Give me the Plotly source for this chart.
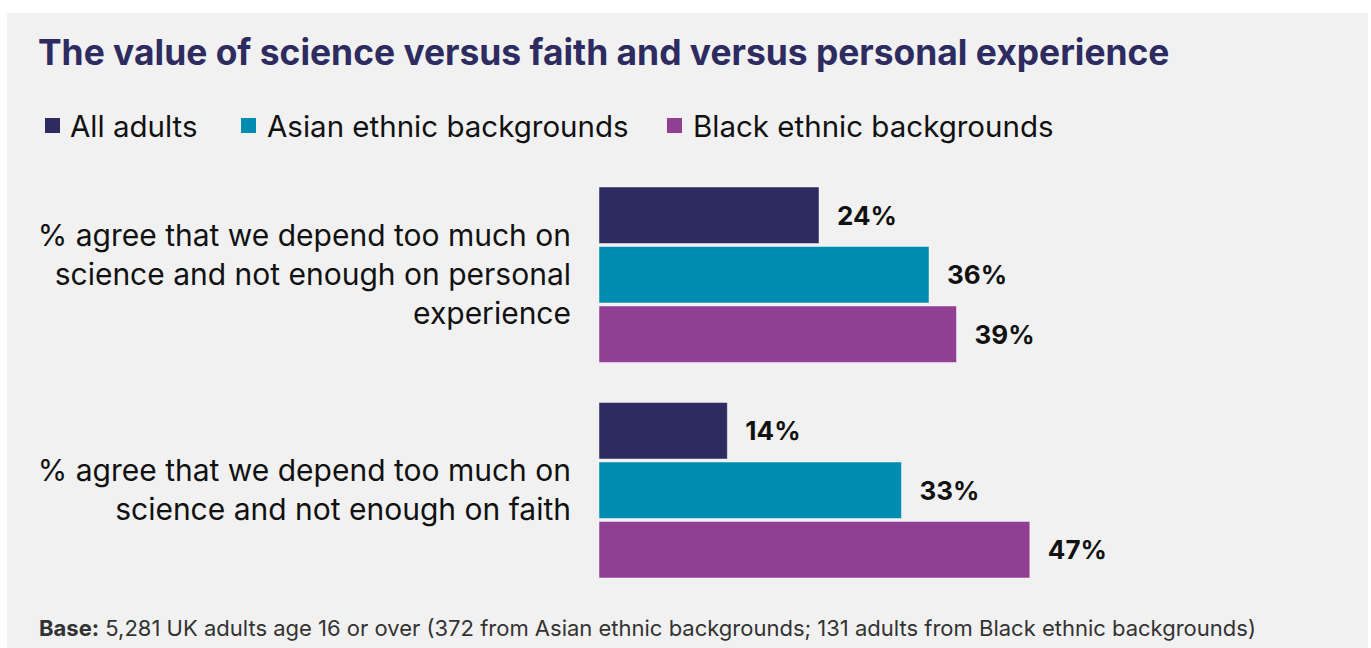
import plotly.graph_objects as go

# ---- data -------------------------------------------------------------
categories = [
    "% agree that we depend too much on<br>science and not enough on personal<br>experience",
    "% agree that we depend too much on<br>science and not enough on faith",
]
series_names = ["All adults", "Asian ethnic backgrounds", "Black ethnic backgrounds"]
all_adults = [24, 14]
asian = [36, 33]
black = [39, 47]
series_values = [all_adults, asian, black]

title_text = "The value of science versus faith and versus personal experience"
base_note = ("<b>Base:</b> 5,281 UK adults age 16 or over (372 from Asian ethnic backgrounds; "
             "131 adults from Black ethnic backgrounds)")

# ---- styling ----------------------------------------------------------
colors = ["#2d2b5f", "#008bb0", "#913f93"]
NAVY = "#2d2b5f"
PANEL = "#f1f1f1"
BODY_FONT = "Inter"
W, H = 1371, 648
M_L, M_R, M_T, M_B = 599, 222, 167, 50
PW, PH = W - M_L - M_R, H - M_T - M_B


def px_x(x):
    return (x - M_L) / PW


def px_y(y):
    return 1 - (y - M_T) / PH


fig = go.Figure()
for name, vals, col in zip(series_names, series_values, colors):
    fig.add_trace(go.Bar(
        y=categories,
        x=vals,
        name=name,
        orientation="h",
        marker=dict(color=col, line=dict(color="rgba(255,255,255,0.45)", width=1)),
        text=vals,
        texttemplate="\u2002\u200a%{x}%",
        textposition="outside",
        textfont=dict(family=BODY_FONT, size=26, color="#111111", weight="bold"),
        cliponaxis=False,
        showlegend=False,
    ))

shapes = [
    # grey panel behind the chart
    dict(type="rect", xref="paper", yref="paper", layer="below",
         x0=px_x(7), x1=px_x(1368), y0=px_y(648), y1=px_y(13),
         fillcolor=PANEL, line=dict(width=0)),
]

annotations = [
    dict(text="<b>" + title_text + "</b>", xref="paper", yref="paper",
         x=px_x(36), y=px_y(52), xanchor="left", yanchor="middle", showarrow=False,
         font=dict(family=BODY_FONT, size=35.4, color=NAVY)),
    dict(text=base_note, xref="paper", yref="paper",
         x=px_x(37), y=px_y(628), xanchor="left", yanchor="middle", showarrow=False,
         font=dict(family=BODY_FONT, size=22, color="#333333")),
]

# hand-built legend row
legend_sq = [45, 241, 667]
legend_tx = [68, 265, 691]
for name, col, sx, tx in zip(series_names, colors, legend_sq, legend_tx):
    shapes.append(dict(type="rect", xref="paper", yref="paper",
                       x0=px_x(sx), x1=px_x(sx + 15), y0=px_y(133), y1=px_y(118),
                       fillcolor=col, line=dict(width=0)))
    annotations.append(dict(text=name, xref="paper", yref="paper",
                            x=px_x(tx), y=px_y(126), xanchor="left", yanchor="middle",
                            showarrow=False,
                            font=dict(family=BODY_FONT, size=29.5, color="#111111")))

fig.update_layout(
    width=W, height=H,
    margin=dict(l=M_L, r=M_R, t=M_T, b=M_B, pad=0),
    paper_bgcolor="white",
    plot_bgcolor="rgba(0,0,0,0)",
    barmode="group",
    bargap=0.172,
    bargroupgap=0.05,
    shapes=shapes,
    annotations=annotations,
    xaxis=dict(range=[0, 60], visible=False, fixedrange=True),
    yaxis=dict(autorange="reversed", showgrid=False, zeroline=False, showline=False,
               ticks="", ticklabelstandoff=27,
               tickfont=dict(family=BODY_FONT, size=30, color="#111111")),
    showlegend=False,
)

fig.write_html("out.html")
